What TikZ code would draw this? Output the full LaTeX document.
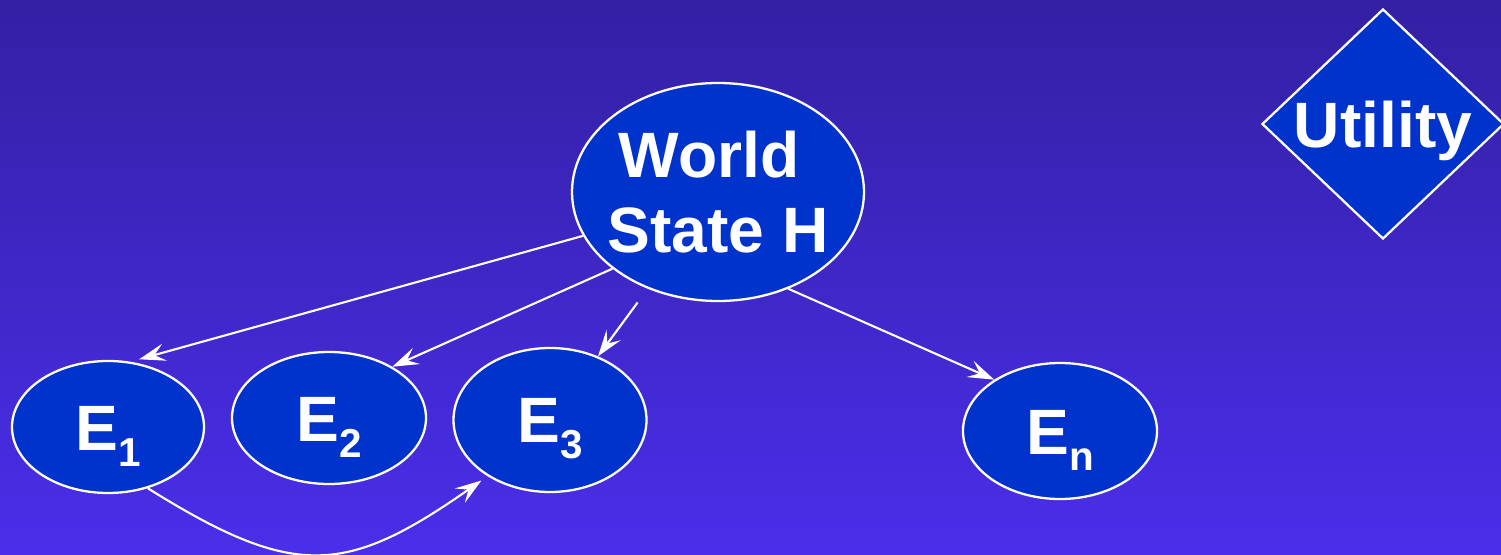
\documentclass[tikz,border=0pt]{standalone}
\usepackage{fontspec}
\setmainfont{Liberation Sans}
\usetikzlibrary{shapes.geometric,arrows.meta}

\definecolor{bgtop}{RGB}{51,32,164}
\definecolor{bgbot}{RGB}{74,46,234}
\definecolor{nodeblue}{RGB}{0,51,204}

% letter with a lowered index, set a bit below the node centre
\newcommand{\evsub}[2]{\raisebox{-0.18cm}[\height][\depth]{#1\raisebox{-0.32cm}{\fontsize{23}{23}\selectfont #2}}}

\begin{document}
\begin{tikzpicture}[font=\fontsize{36.5}{43}\selectfont\bfseries,
  blob/.style={ellipse, draw=white, line width=1.3pt, fill=nodeblue, text=white, inner sep=0pt},
  link/.style={draw=white, line width=1.2pt, -{Stealth[length=15pt, width=10pt, inset=6pt]}}]
  \useasboundingbox (0,0) rectangle (30.02,11.08);
  \shade[top color=bgtop, bottom color=bgbot] (0,0) rectangle (30.02,11.08);

  \node[blob, inner xsep=-0.4cm, minimum width=5.84cm, minimum height=4.36cm, align=center] (world) at (14.36,7.24) {World\kern0.36cm\\State H};
  \node[blob, minimum width=3.84cm, minimum height=2.64cm] (e1) at (2.16,2.54) {\evsub{E}{1}};
  \node[blob, minimum width=3.88cm, minimum height=2.64cm] (e2) at (6.58,2.72) {\evsub{E}{2}};
  \node[blob, minimum width=3.86cm, minimum height=2.88cm] (e3) at (11.0,2.68) {\evsub{E}{3}};
  \node[blob, minimum width=3.88cm, minimum height=2.72cm] (en) at (21.2,2.46) {\evsub{E}{n}};
  \node[diamond, draw=white, line width=1.3pt, fill=nodeblue, text=white, inner sep=0pt, aspect=1.05, minimum width=4.84cm, minimum height=4.6cm] (util) at (27.66,8.6) {\raisebox{-0.14cm}[\height][\depth]{Utility}};

  \draw[link, shorten >=0.18cm] (world.198) -- (e1.71);
  \draw[link] (world.216) -- (e2.39);
  \draw[link, shorten <=0.34cm] (world.234) -- (e3.53);
  \draw[link] (world.306) -- (en.142);
  \draw[link, shorten >=0.15cm] (e1.303) to[out=-32, in=215, looseness=1.3] (e3.222);
\end{tikzpicture}
\end{document}
